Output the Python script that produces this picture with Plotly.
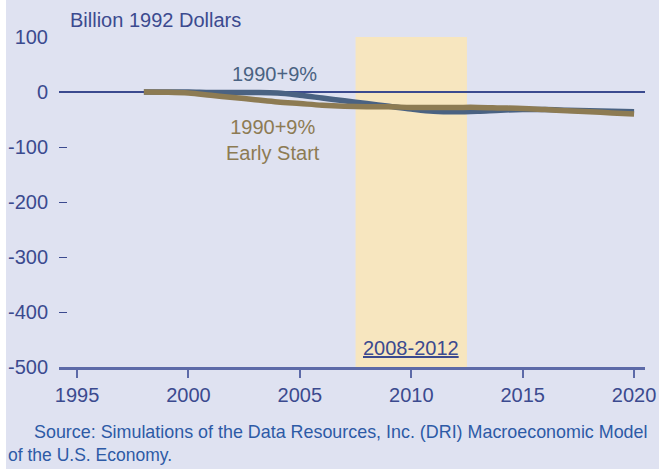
import plotly.graph_objects as go

# 数据
years = list(range(1998, 2021))
base_case = [0, 0, 0, -1, -1, -1, -2, -6, -11, -16, -21, -26, -31, -35, -36, -35,
             -33, -32, -32, -33, -34, -35, -36]
early_start = [0, -0.5, -2, -6, -10, -14, -18, -21, -24, -26, -27, -27, -28, -28,
               -28, -28, -29, -30, -32, -34, -36, -38, -40]
x_ticks = [1995, 2000, 2005, 2010, 2015, 2020]
y_ticks = [100, 0, -100, -200, -300, -400, -500]
y_tick_text = ["100", "0", "-100", "-200", "-300", "-400", "-500"]
band_years = [2007.5, 2012.5]

BG = "#dfe2f1"
TXT = "#3b4a8f"
BLUE_LINE = "#4a6282"
TAN_LINE = "#8d7b53"
BAND = "#f7e6bf"
SRC = "#2d5aa6"

W, H = 659, 469
L, R, T, B = 59, 14, 37, 102
PW, PH = W - L - R, H - T - B


def px_x(p):
    # 页面像素 -> paper 坐标
    return (p - L) / PW


def px_y(p):
    return (H - B - p) / PH


fig = go.Figure()

# 灰蓝线 1990+9%
fig.add_trace(go.Scatter(x=years, y=base_case, mode="lines",
                         line=dict(color=BLUE_LINE, width=5.5, shape="spline"),
                         showlegend=False, hoverinfo="skip"))
# 棕线 Early Start
fig.add_trace(go.Scatter(x=years, y=early_start, mode="lines",
                         line=dict(color=TAN_LINE, width=5.5, shape="spline"),
                         showlegend=False, hoverinfo="skip"))

# 2008-2012 阴影区
fig.add_shape(type="rect", xref="x", yref="y", x0=band_years[0], x1=band_years[1],
              y0=-500, y1=100, fillcolor=BAND, line_width=0, layer="below")

# 左边白条
fig.add_shape(type="rect", xref="paper", yref="paper", x0=px_x(0), x1=px_x(6),
              y0=px_y(H), y1=px_y(0), fillcolor="white", line_width=0, layer="below")

font = "Liberation Sans, Arial, sans-serif"

fig.add_annotation(x=px_x(68), y=px_y(20), xref="paper", yref="paper",
                   text="Billion 1992 Dollars", showarrow=False, xanchor="left",
                   yanchor="middle", font=dict(size=20, color=TXT, family=font))
fig.add_annotation(x=2003.85, y=33, text="1990+9%", showarrow=False,
                   font=dict(size=20, color=BLUE_LINE, family=font))
fig.add_annotation(x=2003.8, y=-87, text="1990+9%<br>Early Start", showarrow=False,
                   font=dict(size=20, color=TAN_LINE, family=font))
fig.add_annotation(x=2010, y=-465, text="<u>2008-2012</u>", showarrow=False,
                   font=dict(size=20, color=TXT, family=font))

fig.add_annotation(x=px_x(32), y=px_y(432), xref="paper", yref="paper",
                   text="Source: Simulations of the Data Resources, Inc. (DRI) Macroeconomic Model",
                   showarrow=False, xanchor="left", yanchor="middle",
                   font=dict(size=17.9, color=SRC, family=font))
fig.add_annotation(x=px_x(6), y=px_y(455), xref="paper", yref="paper",
                   text="of the U.S. Economy.", showarrow=False, xanchor="left",
                   yanchor="middle", font=dict(size=17.5, color=SRC, family=font))

fig.update_xaxes(range=[1994.19, 2020.49], tickvals=x_ticks, ticks="outside",
                 ticklen=8, tickwidth=2, tickcolor="#5d6aa8", showline=True,
                 linecolor="#5d6aa8", linewidth=3, showgrid=False, zeroline=False,
                 automargin=False,
                 tickfont=dict(size=20, color=TXT, family=font))
fig.update_yaxes(range=[-500, 100], tickvals=y_ticks, ticktext=y_tick_text,
                 ticks="inside", ticklen=8, tickwidth=1, tickcolor=TXT,
                 showline=False, showgrid=False,
                 zeroline=True, zerolinecolor=TXT, zerolinewidth=1.5,
                 ticklabelstandoff=10, automargin=False,
                 tickfont=dict(size=20, color=TXT, family=font))

fig.update_layout(width=W, height=H, margin=dict(l=L, r=R, t=T, b=B),
                  paper_bgcolor=BG, plot_bgcolor=BG, showlegend=False)

# 去掉页面默认的 body 边距，让图正好铺满窗口
fig.write_html("out.html", config={"displayModeBar": False},
               post_script="document.body.style.margin='0';"
                           "document.body.style.overflow='hidden';")
